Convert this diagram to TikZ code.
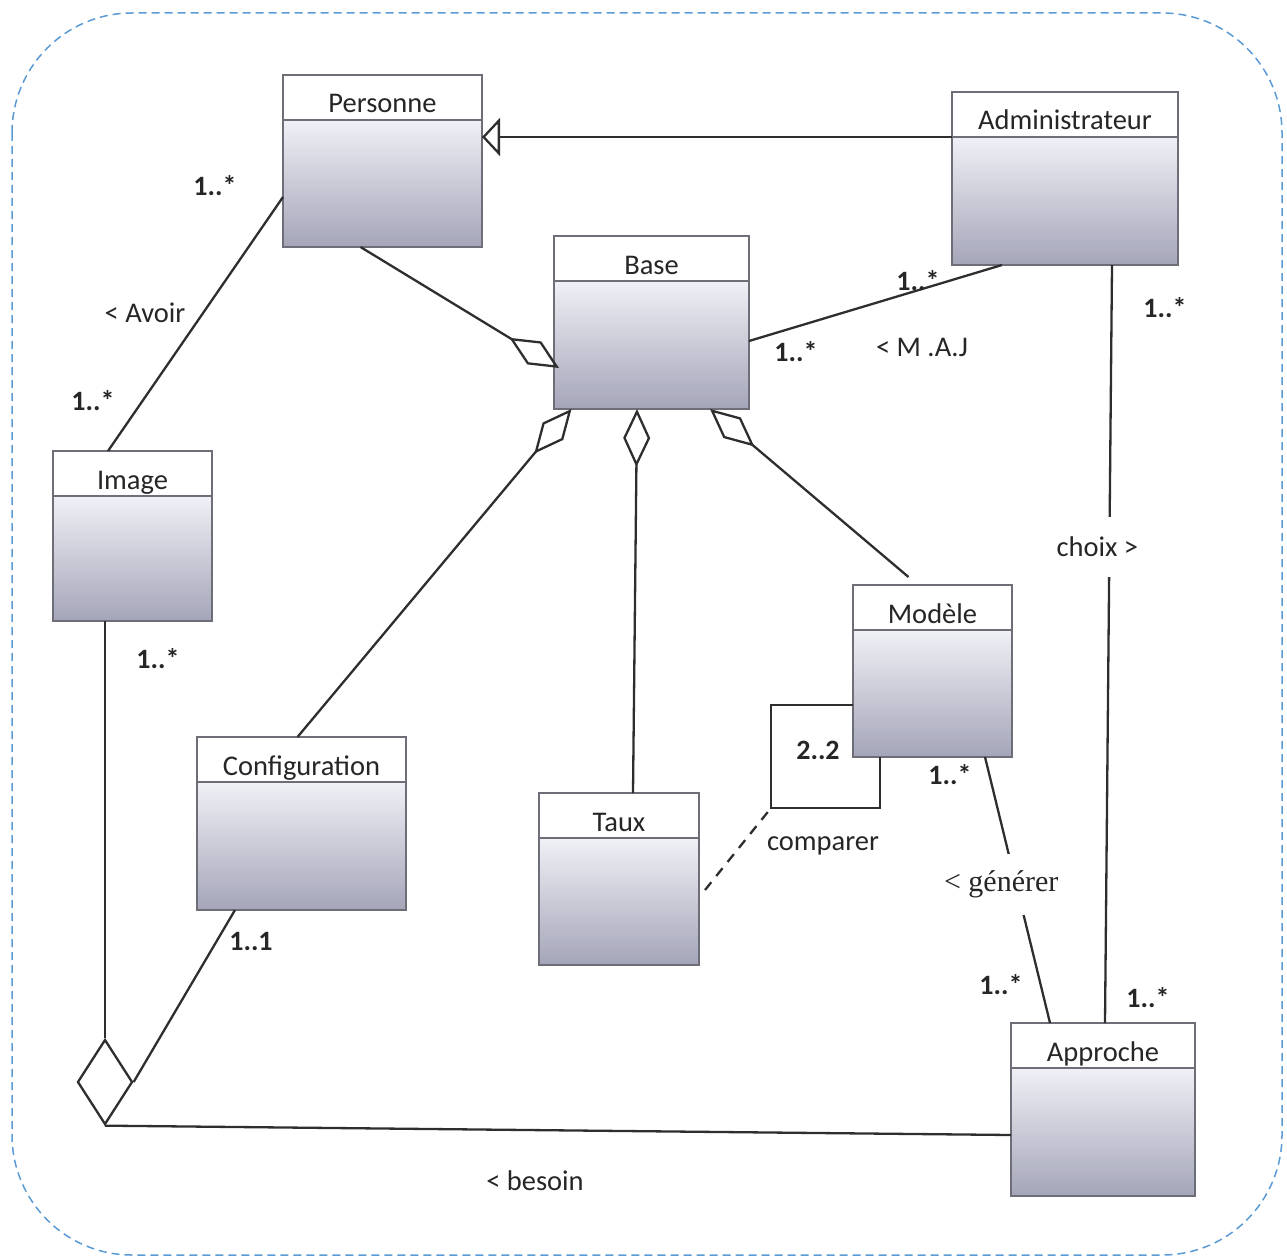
\documentclass[tikz,border=0pt]{standalone}
\usepackage{fontspec}
\setmainfont{Carlito}
\newfontfamily\serifgen{Liberation Serif}
\usetikzlibrary{arrows.meta,shapes.geometric}
\definecolor{boxgray}{HTML}{6E6E78}
\definecolor{linegray}{HTML}{2E2E2E}
\definecolor{bodytop}{HTML}{F0F0F6}
\definecolor{bodybot}{HTML}{A4A5B8}
\definecolor{frameblue}{HTML}{5B9BD5}
\definecolor{txt}{HTML}{262626}
\tikzset{
 classbox/.style={draw=boxgray, line width=2.4pt, inner sep=0pt, outer sep=0pt, fill=white},
 boxline/.style={draw=boxgray, line width=2.4pt},
 classname/.style={font=\fontsize{28.5}{32}\selectfont, text=txt, inner sep=0pt, anchor=base},
 conn/.style={draw=linegray, line width=2.3pt},
 agg/.style={-{Diamond[open,length=58pt,width=27pt]}},
 mult/.style={font=\fontsize{28}{32}\selectfont\bfseries, text=txt, inner sep=0pt},
 lbl/.style={font=\fontsize{28.5}{32}\selectfont, text=txt, inner sep=0pt},
}
\newcommand{\umlclass}[6]{%
 \node[classbox, minimum width=#4pt, minimum height=#5pt] (#1) at (#2,#3) {};
 \shade[top color=bodytop, bottom color=bodybot] ([yshift=-45pt]#1.north west) rectangle (#1.south east);
 \draw[boxline] ([yshift=-45pt]#1.north west) -- ([yshift=-45pt]#1.north east);
 \draw[boxline] (#1.north west) rectangle (#1.south east);
 \node[classname] (#1-name) at ([yshift=-38pt]#1.north) {#6};
}
\begin{document}
\begin{tikzpicture}[x=1pt,y=-1pt]
\useasboundingbox (0,0) rectangle (1287,1260);
\draw[frameblue, line width=1.5pt, dash pattern=on 8pt off 5pt, rounded corners=120pt] (12,13) rectangle (1282,1255);

\umlclass{personne}{382.5}{161}{199}{172}{Personne}
\umlclass{admin}{1065}{178.5}{226}{173}{Administrateur}
\umlclass{base}{651.5}{322.5}{195}{173}{Base}
\umlclass{image}{132.5}{536}{159}{170}{Image}
\umlclass{config}{301.5}{823.5}{209}{173}{Configuration}
\umlclass{taux}{619}{879}{160}{172}{Taux}
\umlclass{modele}{932.5}{671}{159}{172}{Modèle}
\umlclass{approche}{1103}{1109.5}{184}{173}{Approche}

% generalization
\draw[conn, -{Triangle[open, length=18pt, width=38pt]}] ([yshift=41.5pt]admin.west) -- ([yshift=24pt]personne.east);
% aggregations into Base
\draw[conn, agg] ([xshift=-22pt]personne.south) -- ([xshift=5pt,yshift=-45.5pt]base.west);
\draw[conn, agg] ([xshift=-4pt]config.north) -- ([xshift=-80pt]base.south);
\draw[conn, agg] ([xshift=14pt]taux.north) -- ([xshift=-14.5pt]base.south);
\draw[conn, agg] ([xshift=-24pt,yshift=8pt]modele.north) -- ([xshift=58.5pt]base.south);
% associations
\draw[conn] ([yshift=-18.5pt]base.east) -- ([xshift=-63pt]admin.south);
\draw[conn] ([yshift=-36pt]personne.west) -- ([xshift=-24.5pt]image.north);
\draw[conn] ([xshift=47pt]admin.south) -- node[lbl, pos=0.372, fill=white, inner ysep=20pt, inner xsep=2pt, xshift=-12pt] (choix) {choix >} ([xshift=2pt]approche.north);
\draw[conn] ([xshift=52.5pt]modele.south) -- node[lbl, pos=0.48, fill=white, inner ysep=17pt, inner xsep=2pt, xshift=-15pt, font=\serifgen\fontsize{30}{34}\selectfont] (generer) {< générer} ([xshift=-53pt]approche.north);
% self association on Modele
\coordinate (loopc) at (771,808);
\draw[conn] ([yshift=-34pt]modele.west) -| (loopc) -| ([xshift=-52.5pt]modele.south);
\draw[conn, dash pattern=on 10pt off 8pt] ([xshift=6pt,yshift=-11pt]taux.east) -- (loopc);
% n-ary aggregation diamond
\node[draw=linegray, line width=2.3pt, diamond, minimum width=55pt, minimum height=85pt, inner sep=0pt] (aggd) at (105,1082) {};
\draw[conn] ([xshift=-27.5pt]image.south) -- (aggd.north);
\draw[conn] ([xshift=-66.5pt]config.south) -- (aggd.east);
\draw[conn] (aggd.south) -- ([yshift=-25.5pt]approche.west);

% labels
\node[mult] (m1) at (215,186) {1..*};
\node[lbl] (avoir) at (145,313) {< Avoir};
\node[mult] (m2) at (93,401) {1..*};
\node[mult] (m3) at (918,281) {1..*};
\node[mult] (m4) at (796,352) {1..*};
\node[lbl] (maj) at (922,347) {< M .A.J};
\node[mult] (m5) at (1165,308) {1..*};
\node[mult] (m6) at (818,750) {2..2};
\node[mult] (m7) at (950,775) {1..*};
\node[lbl] (comparer) at (823,846) {comparer};
\node[mult] (m8) at (1001,985) {1..*};
\node[mult] (m9) at (1148,998) {1..*};
\node[mult] (m10) at (158,659) {1..*};
\node[mult] (m11) at (251,941) {1..1};
\node[lbl] (besoin) at (535,1181) {< besoin};
\end{tikzpicture}
\end{document}
